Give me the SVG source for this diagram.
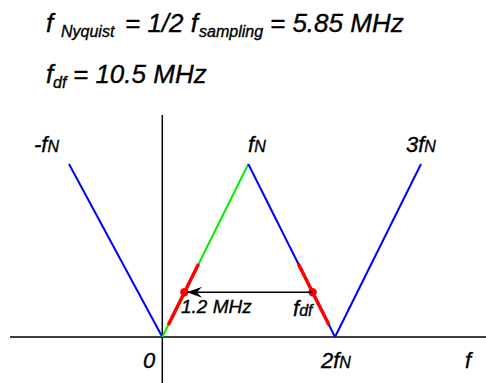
<svg xmlns="http://www.w3.org/2000/svg" width="486" height="383" viewBox="0 0 486 383">
<style>
text{font-family:"Liberation Sans",Arial,sans-serif;font-style:italic;fill:#000;stroke:#000;stroke-width:0.35}
.big{font-size:26px}
.sub{font-size:16px}
.lab{font-size:22px}
.labs{font-size:16px}
.axis{stroke:#000;stroke-width:1.5;fill:none}
.blue{stroke:#0000ff;stroke-width:2;fill:none}
.green{stroke:#00ee00;stroke-width:2;fill:none}
.red{stroke:#ff0000;stroke-width:3.5;fill:none}
.arrow{stroke:#000;stroke-width:1.5;fill:none}
</style>
<defs>
<marker id="ah" viewBox="0 0 15 11" refX="14" refY="5.5" markerWidth="15" markerHeight="11" markerUnits="userSpaceOnUse" orient="auto">
<path d="M15,5.5 L0,0 L5,5.5 L0,11 Z" fill="#000"/>
</marker>
</defs>
<g id="formula">
<text class="big" x="46" y="32">f</text>
<text class="sub" x="61" y="37">Nyquist</text>
<text class="big" x="125" y="32">= 1/2 f</text>
<text class="sub" x="199" y="37">sampling</text>
<text class="big" x="270" y="32">= 5.85 MHz</text>
<text class="big" x="46" y="83">f</text>
<text class="sub" x="53" y="88">df</text>
<text class="big" x="73" y="83">= 10.5 MHz</text>
</g>
<g id="axes">
<line class="axis" x1="10" y1="337" x2="486" y2="337"/>
<line class="axis" x1="162.3" y1="115" x2="162.3" y2="383"/>
</g>
<g id="spectrum">
<line class="blue" x1="69" y1="164" x2="162.3" y2="337"/>
<line class="green" x1="162.3" y1="337" x2="248.3" y2="164"/>
<line class="blue" x1="248.3" y1="164" x2="335" y2="337"/>
<line class="blue" x1="335" y1="337" x2="421" y2="164"/>
<line class="red" x1="168.3" y1="325" x2="198.5" y2="264"/>
<line class="red" x1="298.4" y1="264" x2="329" y2="325"/>
</g>
<g id="points">
<circle cx="184.4" cy="292.3" r="4.2" fill="#ff0000"/>
<circle cx="312.6" cy="292.3" r="4.2" fill="#ff0000"/>
</g>
<g id="connectors">
<line class="arrow" x1="312.6" y1="292.3" x2="188" y2="292.3" marker-end="url(#ah)"/>
</g>
<g id="labels">
<text class="lab" x="34" y="152">-f<tspan class="labs">N</tspan></text>
<text class="lab" x="248" y="152">f<tspan class="labs">N</tspan></text>
<text class="lab" x="406" y="152">3f<tspan class="labs">N</tspan></text>
<text class="lab" x="143" y="368">0</text>
<text class="lab" x="321" y="368">2f<tspan class="labs">N</tspan></text>
<text class="lab" x="465" y="368">f</text>
<text class="lab" x="181" y="313" style="font-size:19px">1.2 MHz</text>
<text class="lab" x="293" y="316">f<tspan class="labs">df</tspan></text>
</g>
</svg>
